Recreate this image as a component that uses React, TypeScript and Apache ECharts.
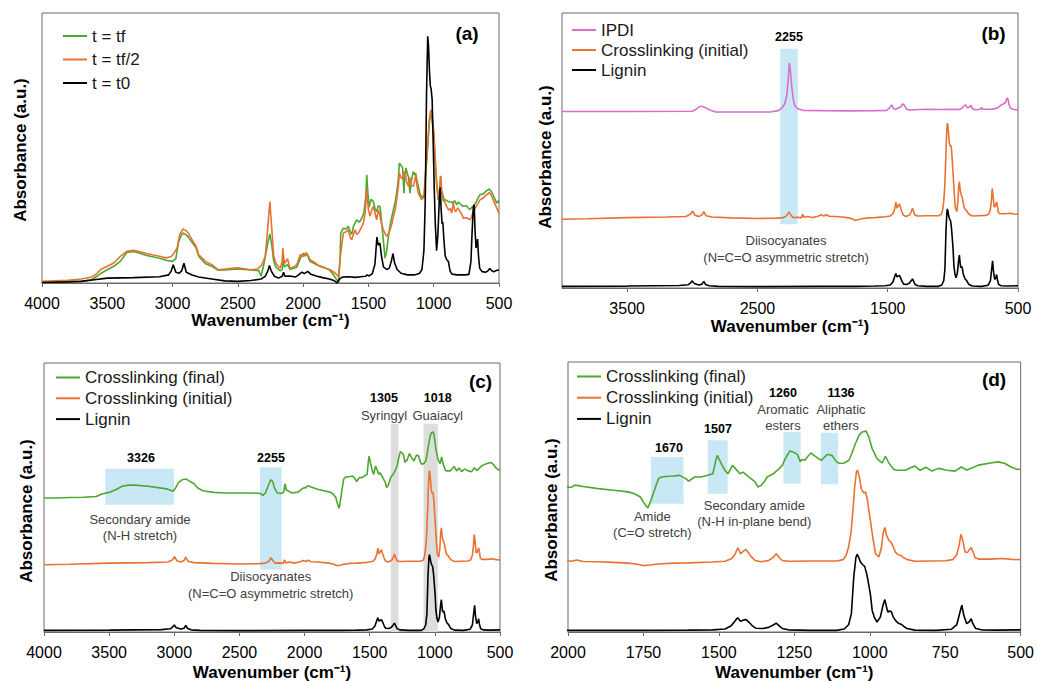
import React, { useEffect, useRef } from "react";
import * as echarts from "echarts";

// ---------- Panel (a): reaction over time (absorbance in % of panel height) ----------
const aTf: [number, number][] = [
  [4000,0.2],[3900,0.3],[3800,0.6],[3700,0.6],[3620,1.2],[3580,2.5],[3550,3.5],[3500,4.9],[3450,6.2],[3400,8],[3370,10],[3350,11.3],[3300,11.7],[3250,11],[3200,10.2],[3100,9.2],[3050,8.4],[3000,8],[2975,9],[2955,15],[2935,17.5],[2920,18.5],[2900,18],[2880,17],[2850,15],[2820,13],[2800,9.9],[2750,7.2],[2700,6.2],[2650,4.7],[2600,4.8],[2500,5.2],[2400,4.8],[2340,4.6],[2322,2.5],[2305,6],[2285,11],[2270,15],[2255,18.2],[2240,14],[2227,8.5],[2210,6],[2176,4.5],[2160,5],[2156,10.5],[2145,6],[2120,6.8],[2100,5],[2049,5.8],[2023,9],[1998,11.1],[1985,10],[1972,10.8],[1960,9.5],[1947,8],[1900,6.8],[1850,6],[1800,4.9],[1768,3.1],[1743,1.2],[1730,0],[1718,8],[1712,18.5],[1692,20.3],[1670,20],[1654,21],[1640,19],[1628,18],[1615,21],[1590,23.4],[1570,22.5],[1551,24],[1535,26],[1520,32],[1513,40.1],[1505,34],[1495,28],[1480,31],[1462,30.2],[1450,27.5],[1437,26.5],[1425,28.5],[1411,28.3],[1398,22],[1386,16],[1373,9.2],[1360,12],[1347,17.3],[1330,22.5],[1309,27.1],[1295,30],[1284,33.3],[1272,38],[1263,44.4],[1250,43.5],[1238,42.6],[1228,33.3],[1220,40],[1212,42.6],[1200,40],[1194,39.5],[1182,33.3],[1170,38],[1156,41.3],[1145,40],[1138,40.7],[1128,38],[1118,35.8],[1105,33],[1092,32],[1074,31.5],[1064,38],[1054,45.6],[1044,52],[1034,59],[1025,62],[1016,62.5],[1008,58],[998,53],[988,44],[978,36.5],[965,31],[955,34],[947,39.7],[938,33],[926,30.2],[915,31],[901,30.5],[888,30.2],[872,30],[863,30],[855,29.6],[840,30.5],[824,29],[810,30],[790,29],[774,28.4],[750,28.6],[735,27.8],[722,27.1],[710,28],[697,28.5],[680,29.5],[660,31.5],[646,32.7],[620,33],[600,34],[585,34.5],[574,34.8],[560,34],[544,32.5],[530,31],[518,29.6],[505,30.5],[500,29.6]
];
const aTfHalf: [number, number][] = [
  [4000,0.6],[3900,0.8],[3800,1],[3700,1.5],[3620,2.2],[3580,3.5],[3550,5],[3500,6.2],[3450,7.4],[3400,9.9],[3350,11.7],[3300,12.1],[3250,11.6],[3200,10.9],[3100,9.9],[3050,9.3],[3010,9.8],[2990,11],[2965,13],[2945,18],[2920,20],[2900,19.5],[2880,18.5],[2850,16],[2820,13.6],[2800,10.5],[2750,8],[2700,6.8],[2650,4.9],[2600,5.2],[2500,5.6],[2400,4.9],[2350,5.2],[2320,6.4],[2290,9.9],[2270,21],[2255,30.2],[2240,20],[2225,10],[2210,7.4],[2176,5.5],[2160,8],[2156,12.9],[2145,8],[2138,7.4],[2120,9],[2100,5.5],[2070,6],[2049,6.8],[2023,10.5],[1998,9.9],[1985,11],[1972,11.1],[1960,10],[1947,8.6],[1910,7.5],[1870,6.1],[1830,5.5],[1794,4.9],[1756,3.7],[1730,2.4],[1712,11.1],[1692,18.5],[1670,19],[1654,19.7],[1640,17],[1628,16],[1615,18],[1602,19.7],[1590,18],[1577,18.5],[1560,20],[1539,22.2],[1525,26],[1513,34.5],[1500,27.1],[1488,24.7],[1475,27],[1462,28.4],[1450,26],[1437,23.4],[1425,27],[1416,25.9],[1400,22],[1386,19.7],[1370,18],[1360,17.3],[1345,18.5],[1335,19.5],[1320,22],[1309,24.7],[1295,27],[1284,30.8],[1270,36],[1263,40.7],[1250,39],[1238,38.5],[1228,41],[1220,41.3],[1210,38],[1194,35.8],[1182,39],[1170,36],[1156,35.8],[1145,38],[1138,40.1],[1128,36],[1118,33.3],[1105,32],[1092,30.8],[1074,33],[1064,40],[1054,45.6],[1044,53],[1034,60.5],[1025,63.5],[1016,64.2],[1008,60],[998,55.5],[988,46],[978,38.2],[965,30.8],[955,34],[947,39.5],[938,34],[926,32],[915,30],[901,28.4],[885,27],[872,27.5],[863,25.9],[850,29.6],[840,27],[832,26.5],[815,27.8],[799,26.5],[785,25.5],[774,24],[750,24.2],[735,23.8],[722,23.4],[710,24.5],[697,26.5],[680,28],[660,29.5],[646,30.8],[620,31.5],[600,32.5],[585,33],[574,33.5],[560,32.5],[544,30.8],[520,28],[500,26]
];
const aT0: [number, number][] = [
  [4000,0.2],[3800,0.4],[3700,0.6],[3600,1.2],[3500,1.8],[3300,2],[3100,2.3],[3030,3],[3010,4.5],[2995,6.8],[2975,4],[2950,3.6],[2930,4.5],[2913,7.3],[2895,4],[2850,3],[2800,2.2],[2700,1.5],[2600,0.8],[2500,0.6],[2400,0.9],[2320,1.5],[2290,2.5],[2270,4.5],[2258,6.5],[2245,4.5],[2220,2.5],[2190,1.8],[2160,2.5],[2150,4],[2140,2.5],[2100,2.6],[2060,2.2],[2040,2.8],[2010,4],[1990,3.5],[1965,4.3],[1940,3.2],[1900,2.6],[1850,2],[1800,1.5],[1760,0.8],[1740,0],[1720,1.5],[1700,2.2],[1650,2.3],[1600,2.1],[1560,2.3],[1520,2.5],[1510,3],[1495,2.6],[1470,3.5],[1450,7],[1435,17],[1425,14],[1412,14.8],[1400,10],[1385,6],[1360,5],[1340,5.5],[1325,8],[1312,10.9],[1300,7.5],[1280,5],[1250,3.6],[1200,3],[1150,3],[1110,3.5],[1090,5],[1075,12],[1065,30],[1055,70],[1046,91.4],[1040,88],[1032,78],[1026,73],[1020,72],[1012,68],[1004,52],[996,35],[988,22],[978,12],[968,18],[958,30],[951,35.4],[944,28],[936,22],[930,22.5],[922,16],[912,10],[900,8.6],[888,8],[875,4.5],[860,3.3],[820,3],[760,3],[730,3.2],[715,8],[705,20],[697,28],[690,29],[684,20],[676,13],[670,14],[664,16.3],[657,10],[648,5.5],[630,4.2],[600,4],[585,4.5],[570,5.4],[555,4.5],[540,4.2],[520,4.6],[500,4.9]
];

// ---------- Panels (b)-(d): stacked spectra (absorbance in % of panel height) ----------
const lignin: [number, number][] = [
  [4000,0.6],[3500,0.7],[3100,0.9],[3030,1.2],[3012,1.9],[3000,2.6],[2985,1.6],[2950,1.1],[2925,1.4],[2912,2.4],[2898,1.3],[2870,0.8],[2800,0.6],[2500,0.5],[2000,0.6],[1750,0.6],[1600,0.7],[1520,0.8],[1480,1.1],[1460,2.2],[1448,3.9],[1438,5.3],[1428,4],[1418,4.4],[1410,4.6],[1400,3.6],[1390,2.4],[1378,1.4],[1355,1.3],[1335,1.7],[1320,2.6],[1310,3.3],[1300,2.3],[1290,1.3],[1270,0.8],[1200,0.6],[1110,0.6],[1085,1.1],[1070,2.7],[1061,6.8],[1053,20.4],[1046,27.5],[1042,28.8],[1036,27.5],[1031,25.9],[1024,25],[1017,24.3],[1010,21.5],[1006,19.1],[998,14],[992,8],[984,5.2],[976,3.7],[965,5.5],[956,10],[950,12],[945,9.5],[940,7.4],[934,7.8],[928,7.4],[922,5.5],[915,4.3],[905,3.2],[895,2.8],[885,1.9],[877,1.3],[850,0.7],[780,0.6],[730,1],[712,2.6],[703,6.5],[695,9.9],[688,6],[679,3.1],[670,3.8],[664,4.9],[658,3],[649,1.3],[630,0.8],[580,0.7],[500,0.8]
];
const initial: [number, number][] = [
  [4000,25],[3800,25.2],[3500,25.6],[3200,25.8],[3050,26],[3015,26.8],[2998,28],[2980,26.5],[2950,26],[2925,26.6],[2912,27.8],[2895,26.3],[2850,25.8],[2700,25.5],[2500,25.3],[2350,25.4],[2300,25.6],[2275,26.3],[2258,27.6],[2243,26.5],[2225,25.6],[2190,25.7],[2165,25.5],[2152,26.8],[2145,25.7],[2110,26],[2080,25.6],[2040,26],[2010,26.6],[1990,26.2],[1970,26.7],[1950,26.1],[1900,26],[1850,25.8],[1800,25.5],[1775,25.2],[1750,24.6],[1730,24.8],[1700,25.2],[1650,25.5],[1600,25.6],[1520,25.9],[1480,26.2],[1460,27],[1448,28.5],[1437,31.2],[1428,29],[1418,30],[1410,30.6],[1400,29],[1392,27.8],[1380,26.5],[1360,26],[1335,26.5],[1320,27.6],[1310,29],[1300,27.6],[1290,26.5],[1270,26.2],[1200,26.3],[1110,26.3],[1088,26.8],[1078,28.5],[1070,31.5],[1062,37],[1055,46],[1050,53.7],[1044,59.5],[1040,59.9],[1034,57],[1028,53],[1020,51.5],[1014,51.9],[1008,49],[1003,45],[998,41.4],[990,35],[981,29],[970,27.8],[962,31],[955,37],[950,38.7],[945,36],[937,34],[928,33],[922,31.5],[915,29.6],[905,28.5],[897,28.4],[888,27.5],[875,26.8],[850,26.2],[800,26.3],[750,26.4],[725,26.8],[712,28.5],[704,32],[698,36.2],[692,34],[684,29.6],[676,29.5],[670,30.5],[664,31.3],[657,29.5],[651,27.5],[640,27],[600,27],[560,27.2],[530,26.9],[500,26.8]
];
const final: [number, number][] = [
  [4000,49.8],[3900,49.8],[3800,50],[3700,50.1],[3600,50.4],[3550,51.4],[3500,51.9],[3450,52.9],[3400,54.2],[3350,54.6],[3300,54.6],[3200,54.2],[3100,53.5],[3050,53.1],[3010,52.3],[2990,53.5],[2970,55.4],[2940,56.6],[2910,56.9],[2880,56],[2850,55.2],[2820,53.5],[2780,52.5],[2700,51.9],[2600,51.7],[2500,51.7],[2400,51.7],[2340,51.5],[2320,50.8],[2300,51.7],[2280,54.2],[2260,56.6],[2245,56],[2230,53.5],[2210,51.7],[2180,51.5],[2160,52],[2150,55.1],[2140,52.8],[2120,52.3],[2100,51.7],[2050,52],[2020,53.2],[2000,53.7],[1990,53.5],[1980,54.3],[1970,54.3],[1950,53.9],[1900,53.1],[1850,52.5],[1800,51.9],[1780,51.2],[1760,50],[1750,48.1],[1740,46.5],[1735,46],[1725,48.8],[1710,53.7],[1700,56.8],[1690,57.4],[1670,57.7],[1650,57.8],[1630,58],[1610,56.8],[1600,55.9],[1580,57.4],[1560,57.4],[1540,58],[1520,58.6],[1510,63.6],[1505,65.4],[1495,63],[1480,59.9],[1470,58.6],[1455,61.7],[1445,60.5],[1430,58.6],[1420,59.2],[1400,57.4],[1380,55.6],[1370,53.7],[1360,54.3],[1350,55.6],[1340,57.4],[1320,58.6],[1300,60.5],[1290,61.7],[1280,64.2],[1265,67],[1255,66.7],[1240,65.8],[1230,63],[1225,63.9],[1215,63.6],[1205,65.1],[1195,66.3],[1185,65.4],[1170,64.2],[1160,63.6],[1150,64.8],[1140,65.8],[1125,65.4],[1110,63],[1100,62.4],[1085,62.6],[1069,63.6],[1060,66],[1047,69.9],[1035,73],[1025,74.1],[1012,74.4],[1003,72.2],[992,67.9],[976,64.2],[959,62.6],[948,65.1],[937,62.6],[920,60.2],[910,59.9],[882,59.9],[865,60.8],[851,61.5],[833,59.9],[814,61],[794,59.6],[772,60.6],[745,59.9],[717,59.6],[697,61.1],[679,60],[660,60.8],[640,61.8],[600,62.6],[574,63],[552,62.4],[530,61],[510,60.2],[500,60.4]
];
const ipdi: [number, number][] = [
  [4000,64.2],[3500,64.2],[3000,64.3],[2970,65],[2945,66],[2920,66],[2895,65.5],[2860,64.6],[2820,64],[2600,64],[2400,64],[2340,64.5],[2310,65.5],[2290,67],[2275,70],[2265,75],[2255,81.8],[2247,79],[2238,74],[2225,68.5],[2210,66],[2190,65.2],[2150,64.6],[2000,64.5],[1800,64.4],[1600,64.5],[1510,64.6],[1485,65.5],[1470,66.6],[1455,65.2],[1440,65],[1420,65.5],[1400,65.8],[1385,67],[1370,66.3],[1355,65],[1330,64.7],[1300,64.8],[1250,64.9],[1200,65],[1100,64.9],[1000,65],[950,64.9],[930,65.4],[915,66.2],[902,66.6],[890,65.6],[875,65.7],[862,66.5],[850,65.2],[830,64.8],[790,65],[780,65.6],[770,65],[700,65],[660,65.4],[630,66.5],[610,67],[595,67.5],[585,69],[578,68.9],[570,67],[560,65.5],[540,65],[500,64.7]
];

// Highlighted bands: [wavenumber from, wavenumber to, absorbance low, absorbance high]
const bandsB: number[][] = [[2325, 2190, 23.2, 87]];
const bandsCBlue: number[][] = [[3529, 3003, 47.3, 60.7], [2342, 2176, 23.2, 61.2]];
const bandsCGray: number[][] = [[1338, 1279, 0, 77.4], [1087, 977, 0, 77.4]];
const bandsD: number[][] = [[1725, 1617, 47.5, 64.8], [1537, 1471, 51.2, 71], [1286, 1229, 54.9, 74.1], [1162, 1105, 54.7, 73.8]];

const ticksB = [3500, 2500, 1500, 500];

const GREEN = "#4ea72e";
const ORANGE = "#e97132";
const BLACK = "#000000";
const PINK = "#d86ecc";
const BLUE = "#c9e8f6";
const GRAY = "#dddddd";
const AX = "#6b6b6b";
const FONT = "'Liberation Sans', Arial, sans-serif";

function App() {
  const ref = useRef<HTMLDivElement>(null);

  useEffect(() => {
    const chart = echarts.init(ref.current!, null, { renderer: "svg" });

    const grids = [
      { left: 42, top: 13, width: 457, height: 270 },
      { left: 562, top: 13, width: 456, height: 275 },
      { left: 44, top: 363, width: 456, height: 269 },
      { left: 568, top: 362, width: 454, height: 270 },
    ].map((g) => ({ ...g, show: true, borderColor: AX, borderWidth: 1, backgroundColor: "transparent" }));

    const plain = (v: number) => String(v);
    const labelStyle = { fontFamily: FONT, fontSize: 16, color: "#000", margin: 12, formatter: plain };

    const xBase = (gi: number, min: number, max: number, gap: number) => ({
      type: "value",
      gridIndex: gi,
      inverse: true,
      min,
      max,
      name: "Wavenumber (cm⁻¹)",
      nameLocation: "middle",
      nameGap: gap,
      nameTextStyle: { fontFamily: FONT, fontSize: 17, fontWeight: "bold", color: "#000" },
      axisLine: { show: true, lineStyle: { color: AX, width: 1 } },
      axisTick: { show: true, length: 4, lineStyle: { color: AX } },
      axisLabel: labelStyle,
      splitLine: { show: false },
    });

    const xAxes = [
      { ...xBase(0, 500, 4000, 26), interval: 500 },
      {
        ...xBase(1, 500, 4000, 30),
        axisTick: { show: true, length: 4, lineStyle: { color: AX }, customValues: ticksB },
        axisLabel: { ...labelStyle, customValues: ticksB },
      },
      { ...xBase(2, 500, 4000, 32), interval: 500 },
      { ...xBase(3, 500, 2000, 32), interval: 250 },
    ];

    const yAxes = [0, 1, 2, 3].map((gi) => ({
      type: "value",
      gridIndex: gi,
      min: 0,
      max: 100,
      axisLine: { show: false },
      axisTick: { show: false },
      axisLabel: { show: false },
      splitLine: { show: false },
    }));

    const line = (name: string, data: [number, number][], color: string, gi: number) => ({
      type: "line",
      name,
      data,
      xAxisIndex: gi,
      yAxisIndex: gi,
      showSymbol: false,
      symbol: "none",
      silent: true,
      z: 3,
      lineStyle: { color, width: 1.6 },
      itemStyle: { color },
    });

    const bandSeries = (bands: number[][], color: string, gi: number) => ({
      type: "line",
      data: [],
      xAxisIndex: gi,
      yAxisIndex: gi,
      silent: true,
      z: 1,
      markArea: {
        silent: true,
        itemStyle: { color, borderWidth: 0 },
        data: bands.map((b) => [
          { xAxis: b[0], yAxis: b[2] },
          { xAxis: b[1], yAxis: b[3] },
        ]),
      },
    });

    const series = [
      line("t = tf", aTf, GREEN, 0),
      line("t = tf/2", aTfHalf, ORANGE, 0),
      line("t = t0", aT0, BLACK, 0),
      bandSeries(bandsB, BLUE, 1),
      line("IPDI", ipdi, PINK, 1),
      line("Crosslinking (initial)", initial, ORANGE, 1),
      line("Lignin", lignin, BLACK, 1),
      bandSeries(bandsCBlue, BLUE, 2),
      bandSeries(bandsCGray, GRAY, 2),
      line("Crosslinking (final)", final, GREEN, 2),
      line("Crosslinking (initial)", initial, ORANGE, 2),
      line("Lignin", lignin, BLACK, 2),
      bandSeries(bandsD, BLUE, 3),
      line("Crosslinking (final)", final, GREEN, 3),
      line("Crosslinking (initial)", initial, ORANGE, 3),
      line("Lignin", lignin, BLACK, 3),
    ];

    const legendBase = {
      orient: "vertical",
      icon: "rect",
      itemWidth: 24,
      itemHeight: 2,
      padding: 0,
      selectedMode: false,
      textStyle: { fontFamily: FONT, fontSize: 17, color: "#1a1a1a" },
    };
    const legends = [
      { ...legendBase, left: 63, top: 27.5, itemGap: 6.5, data: ["t = tf", "t = tf/2", "t = t0"] },
      { ...legendBase, left: 572, top: 21.5, itemGap: 3, data: ["IPDI", "Crosslinking (initial)", "Lignin"] },
      { ...legendBase, left: 56, top: 369, itemGap: 3.8, data: ["Crosslinking (final)", "Crosslinking (initial)", "Lignin"] },
      { ...legendBase, left: 577, top: 368, itemGap: 4.2, data: ["Crosslinking (final)", "Crosslinking (initial)", "Lignin"] },
    ];

    const txt = (text: string, x: number, y: number, size: number, bold: boolean, color: string, rot = 0) => ({
      type: "text",
      x,
      y,
      rotation: rot,
      silent: true,
      z: 10,
      style: {
        text,
        fontFamily: FONT,
        fontSize: size,
        fontWeight: bold ? "bold" : "normal",
        fill: color,
        align: "center",
        verticalAlign: "middle",
      },
    });
    const NOTE = "#404040";
    const graphic = [
      txt("Absorbance (a.u.)", 20, 150, 17, true, "#000", Math.PI / 2),
      txt("Absorbance (a.u.)", 545, 157, 17, true, "#000", Math.PI / 2),
      txt("Absorbance (a.u.)", 26, 511, 17, true, "#000", Math.PI / 2),
      txt("Absorbance (a.u.)", 551, 510, 17, true, "#000", Math.PI / 2),
      txt("(a)", 467, 33, 19, true, "#000"),
      txt("(b)", 993.5, 33, 19, true, "#000"),
      txt("(c)", 480.5, 381.5, 19, true, "#000"),
      txt("(d)", 994, 379, 19, true, "#000"),
      // (b)
      txt("2255", 789, 37, 12.5, true, "#000"),
      txt("Diisocyanates", 786, 240.7, 13, false, NOTE),
      txt("(N=C=O asymmetric stretch)", 786, 257, 13, false, NOTE),
      // (c)
      txt("3326", 141, 458.3, 12.5, true, "#000"),
      txt("Secondary amide", 140, 519.3, 13, false, NOTE),
      txt("(N-H stretch)", 140, 535.7, 13, false, NOTE),
      txt("2255", 271, 457.7, 12.5, true, "#000"),
      txt("Diisocyanates", 270.7, 576.7, 13, false, NOTE),
      txt("(N=C=O asymmetric stretch)", 270.7, 593.3, 13, false, NOTE),
      txt("1305", 384, 398.3, 12.5, true, "#000"),
      txt("Syringyl", 384, 415, 13, false, NOTE),
      txt("1018", 437.7, 398.3, 12.5, true, "#000"),
      txt("Guaiacyl", 437.7, 415, 13, false, NOTE),
      // (d)
      txt("1670", 669, 448.3, 12.5, true, "#000"),
      txt("Amide", 652.3, 516, 13, false, NOTE),
      txt("(C=O stretch)", 652.3, 532.3, 13, false, NOTE),
      txt("1507", 718, 429.3, 12.5, true, "#000"),
      txt("Secondary amide", 754.3, 505, 13, false, NOTE),
      txt("(N-H in-plane bend)", 754.3, 521.7, 13, false, NOTE),
      txt("1260", 783, 392.7, 12.5, true, "#000"),
      txt("Aromatic", 783, 409.3, 13, false, NOTE),
      txt("esters", 783, 425, 13, false, NOTE),
      txt("1136", 841, 392.7, 12.5, true, "#000"),
      txt("Aliphatic", 841, 409.3, 13, false, NOTE),
      txt("ethers", 841, 425, 13, false, NOTE),
    ];

    chart.setOption({
      animation: false,
      backgroundColor: "#ffffff",
      textStyle: { fontFamily: FONT },
      grid: grids,
      xAxis: xAxes,
      yAxis: yAxes,
      legend: legends,
      series,
      graphic,
    });

    return () => chart.dispose();
  }, []);

  return (
    <div
      ref={ref}
      style={{ position: "fixed", left: 0, top: 0, width: 1037, height: 683, background: "#fff" }}
    />
  );
}

export default App;
